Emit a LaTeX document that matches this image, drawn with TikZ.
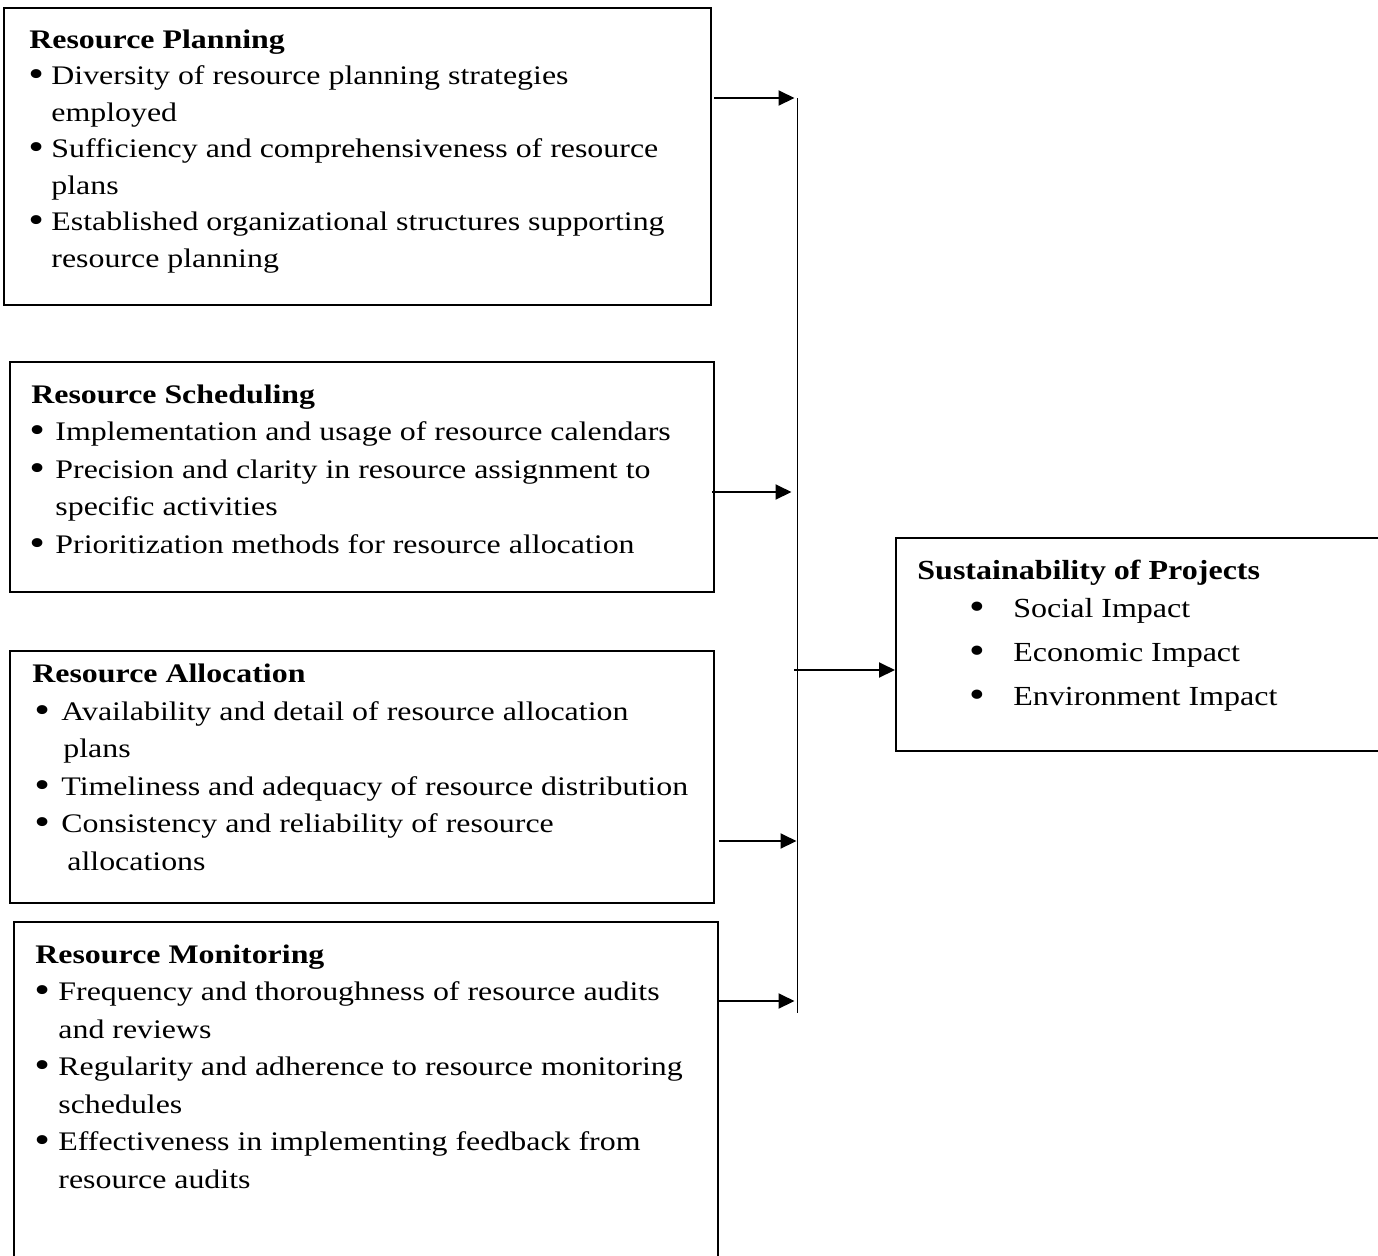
\documentclass[tikz,border=0pt]{standalone}
\usepackage{fontspec}
\usepackage{graphicx}
\setmainfont{Liberation Serif}
\newfontfamily\lfont[FakeStretch=1.19]{Liberation Serif}
\newfontfamily\rfont[FakeStretch=1.16]{Liberation Serif}
\usetikzlibrary{arrows.meta,calc}
\newcommand{\bigbul}{\hspace*{-1.5pt}\raisebox{-0.09em}{\scalebox{1.4}{\textbullet}}}
\newcommand{\bpt}[2]{\hspace*{#1}\makebox[#2][l]{\bigbul}}
\begin{document}
\begin{tikzpicture}[x=0.5pt,y=-0.5pt,
 box/.style={draw,line width=1pt,inner sep=0pt,rectangle},
 lefttext/.style={anchor=base west,inner sep=0pt,align=left,font=\lfont\fontsize{13.4}{18.75}\selectfont},
 righttext/.style={anchor=base west,inner sep=0pt,align=left,font=\rfont\fontsize{13.8}{22}\selectfont},
 arr/.style={line width=1pt,-{Triangle[length=8pt,width=7.5pt]}},
 vline/.style={line width=0.9pt}]
\useasboundingbox (0,0) rectangle (1378,1255);

% boxes
\node[box,minimum width=353.5pt,minimum height=148.5pt] (b1) at (357.5,156.5) {};
\node[box,minimum width=352pt,minimum height=115pt] (b2) at (362,477) {};
\node[box,minimum width=352pt,minimum height=126pt] (b3) at (362,777) {};
\node[box,minimum width=352pt,minimum height=170pt] (b4) at (366,1092) {};
\node[box,minimum width=244.5pt,minimum height=106.5pt] (r) at (1140.5,644.5) {};

% texts (anchored at the baseline of their last line)
\node[lefttext,font=\lfont\fontsize{13.4}{18.25}\selectfont] (t1) at (29,267) {\textbf{Resource Planning}\\
\bpt{1pt}{10pt}Diversity of resource planning strategies\\
\hspace*{11pt}employed\\
\bpt{1pt}{10pt}Sufficiency and comprehensiveness of resource\\
\hspace*{11pt}plans\\
\bpt{1pt}{10pt}Established organizational structures supporting\\
\hspace*{11pt}resource planning};

\node[lefttext] (t2) at (31,553) {\textbf{Resource Scheduling}\\
\bpt{0.5pt}{11.5pt}Implementation and usage of resource calendars\\
\bpt{0.5pt}{11.5pt}Precision and clarity in resource assignment to\\
\hspace*{12pt}specific activities\\
\bpt{0.5pt}{11.5pt}Prioritization methods for resource allocation};

\node[lefttext] (t3) at (32,870) {\textbf{Resource Allocation}\\
\bpt{2.5pt}{12pt}Availability and detail of resource allocation\\
\hspace*{15.5pt}plans\\
\bpt{2.5pt}{12pt}Timeliness and adequacy of resource distribution\\
\bpt{2.5pt}{12pt}Consistency and reliability of resource\\
\hspace*{17.5pt}allocations};

\node[lefttext] (t4) at (35,1188) {\textbf{Resource Monitoring}\\
\bpt{1pt}{10.5pt}Frequency and thoroughness of resource audits\\
\hspace*{11.5pt}and reviews\\
\bpt{1pt}{10.5pt}Regularity and adherence to resource monitoring\\
\hspace*{11.5pt}schedules\\
\bpt{1pt}{10.5pt}Effectiveness in implementing feedback from\\
\hspace*{11.5pt}resource audits};

\node[righttext] (tr) at (917,705) {\textbf{Sustainability of Projects}\\[-3pt]
\bpt{27.5pt}{20.5pt}Social Impact\\
\bpt{27.5pt}{20.5pt}Economic Impact\\
\bpt{27.5pt}{20.5pt}Environment Impact};

% connectors
\coordinate (vtop) at (797.5,98);
\coordinate (vbot) at (797.5,1013);
\draw[vline] (vtop) -- (vbot);
\draw[arr] ($(b1.east |- vtop)+(2,0)$) -- ($(vtop)+(-3,0)$);
\draw[arr] ($(b2.east |- 0,492)+(-3,0)$) -- ($(vtop |- 0,492)+(-6,0)$);
\draw[arr] ($(b3.east |- 0,841)+(4,0)$) -- ($(vtop |- 0,841)+(-1,0)$);
\draw[arr] ($(b4.east |- 0,1001)$) -- ($(vtop |- 0,1001)+(-3,0)$);
\draw[arr] ($(vtop |- 0,670)+(-3.5,0)$) -- (r.west |- 0,670);
\end{tikzpicture}
\end{document}
